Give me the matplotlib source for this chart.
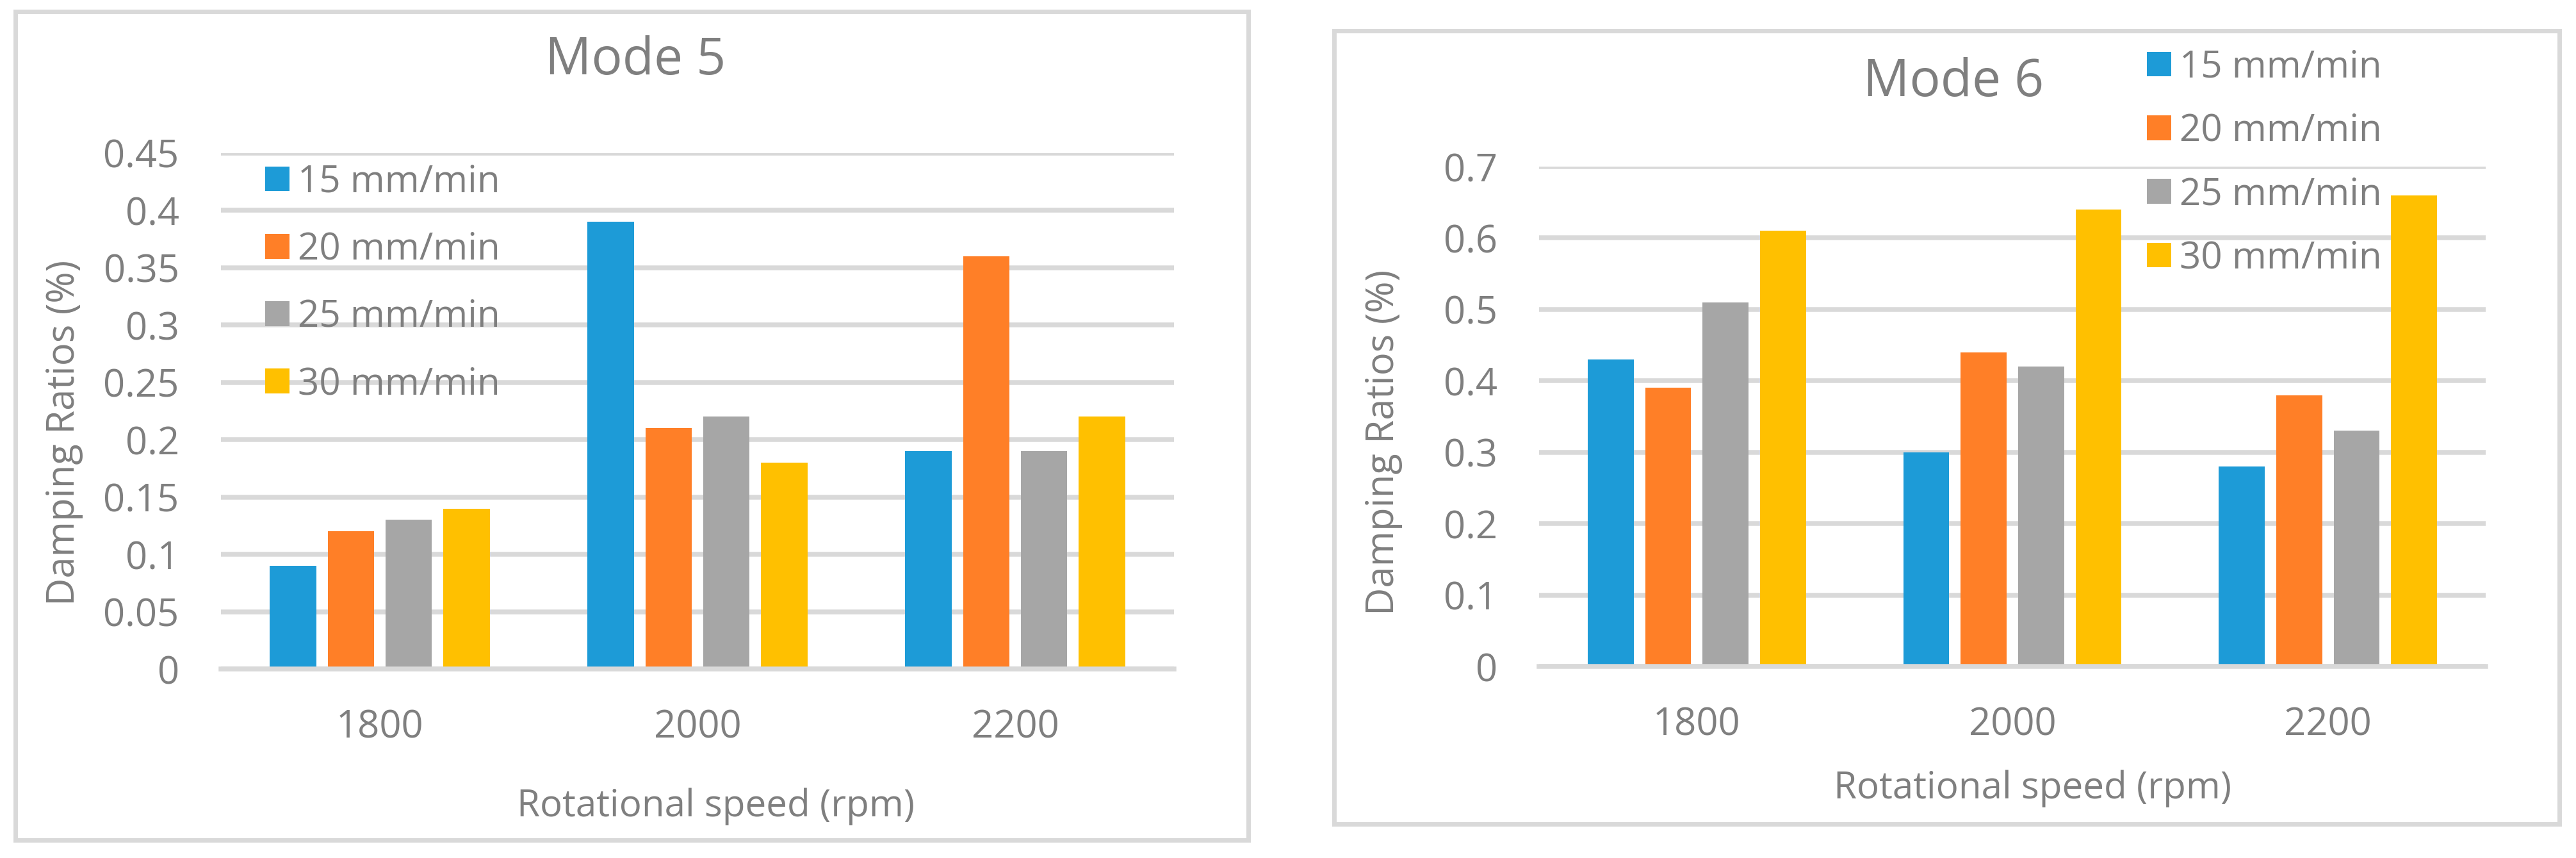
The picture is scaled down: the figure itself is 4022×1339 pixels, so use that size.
import numpy as np
import matplotlib
matplotlib.use("Agg")
import matplotlib.pyplot as plt
from matplotlib.patches import Rectangle

plt.rcParams['font.family'] = ['Open Sans', 'DejaVu Sans']

speeds = ["1800", "2000", "2200"]
feeds = ["15 mm/min", "20 mm/min", "25 mm/min", "30 mm/min"]
colors = ["#1D9BD7", "#FF7F27", "#A6A6A6", "#FFC000"]

# damping ratios (%) for Mode 5, one list per feed rate
m5_15 = [0.09, 0.39, 0.19]
m5_20 = [0.12, 0.21, 0.36]
m5_25 = [0.13, 0.22, 0.19]
m5_30 = [0.14, 0.18, 0.22]

# damping ratios (%) for Mode 6
m6_15 = [0.43, 0.30, 0.28]
m6_20 = [0.39, 0.44, 0.38]
m6_25 = [0.51, 0.42, 0.33]
m6_30 = [0.61, 0.64, 0.66]

m5_yticks = [0, 0.05, 0.1, 0.15, 0.2, 0.25, 0.3, 0.35, 0.4, 0.45]
m6_yticks = [0, 0.1, 0.2, 0.3, 0.4, 0.5, 0.6, 0.7]

W, H = 4023, 1339
TXT = "#7F7F7F"
GRID = "#D9D9D9"

fig = plt.figure(figsize=(W / 100, H / 100), dpi=100)


def fx(px):
    return px / W


def fy(px):
    return 1 - px / H


def panel(x0, y0, x1, y1):
    fig.patches.append(Rectangle((fx(x0), fy(y1)), fx(x1 - x0), (y1 - y0) / H,
                                 transform=fig.transFigure, fill=False,
                                 edgecolor=GRID, linewidth=5, zorder=0))


def bar_chart(box, series, yticks, title, title_xy, ylab_xy, xlab_xy, leg_xy, leg_space):
    ax = fig.add_axes(box)
    x = np.arange(len(speeds))
    step, width = 0.182, 0.146
    for i, vals in enumerate(series):
        ax.bar(x + (i - 1.5) * step, vals, width, color=colors[i], label=feeds[i], zorder=2)
    ax.set_xlim(-0.5, 2.5)
    ax.set_ylim(0, yticks[-1])
    ax.set_yticks(yticks, ['{:g}'.format(t) for t in yticks])
    ax.set_xticks(x, speeds)
    ax.tick_params(length=0, labelsize=43, labelcolor=TXT)
    ax.tick_params(axis='y', pad=47)
    ax.tick_params(axis='x', pad=44)
    ax.grid(axis='y', color=GRID, linewidth=5.4, zorder=0)
    ax.set_axisbelow(True)
    for s in ['top', 'left', 'right']:
        ax.spines[s].set_visible(False)
    ax.spines['bottom'].set_color(GRID)
    ax.spines['bottom'].set_linewidth(5.4)
    ax.spines['bottom'].set_zorder(3)

    fig.text(fx(title_xy[0]), fy(title_xy[1]), title, ha='center', va='baseline',
             fontsize=58, color=TXT)
    fig.text(fx(ylab_xy[0]), fy(ylab_xy[1]), "Damping Ratios (%)", rotation=90,
             ha='center', va='center', fontsize=43, color=TXT)
    fig.text(fx(xlab_xy[0]), fy(xlab_xy[1]), "Rotational speed (rpm)", ha='center',
             va='baseline', fontsize=42, color=TXT)
    ax.legend(loc='upper left', bbox_to_anchor=(fx(leg_xy[0]), fy(leg_xy[1])),
              bbox_transform=fig.transFigure, frameon=False, fontsize=42,
              handlelength=0.65, handleheight=0.65, handletextpad=0.22,
              labelspacing=leg_space, borderpad=0, borderaxespad=0,
              labelcolor=TXT)
    return ax


panel(24.5, 18, 1949.5, 1310.5)
panel(2083, 47.5, 3996, 1286)

bar_chart([fx(345), fy(1044), fx(1833 - 345), (1044 - 239) / H],
          [m5_15, m5_20, m5_25, m5_30], m5_yticks, "Mode 5",
          (992, 116), (100, 675), (1118, 1274), (414, 255), 0.8)

bar_chart([fx(2403), fy(1040), fx(3881 - 2403), (1040 - 260) / H],
          [m6_15, m6_20, m6_25, m6_30], m6_yticks, "Mode 6",
          (3050, 150), (2160, 690), (3174, 1246), (3352, 76), 0.7)

fig.savefig("out.png", dpi=100)
